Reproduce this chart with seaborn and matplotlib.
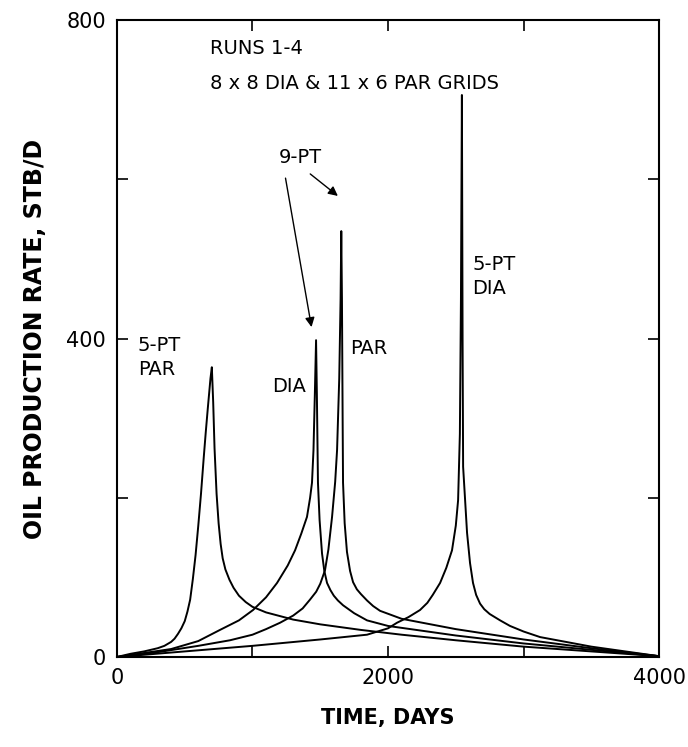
import numpy as np
import pandas as pd
import matplotlib
matplotlib.use("Agg")
import matplotlib.pyplot as plt
import seaborn as sns

# --- data (days, STB/D) ---
par5_t = [0, 100, 200, 300, 350, 400, 425, 450, 475, 500, 520, 540, 560, 580,
          600, 620, 640, 655, 670, 690, 700,
          710, 720, 735, 750, 765, 780, 800, 830, 860, 900, 950, 1000, 1100,
          1300, 1500, 1800, 2100, 2500, 3000, 3500, 4000]
par5_r = [0, 4, 7, 11, 14, 19, 23, 29, 36, 45, 57, 72, 98, 128,
          165, 205, 250, 282, 312, 350, 364,
          320, 262, 205, 168, 142, 124, 110, 97, 87, 77, 69, 63, 56,
          47, 41, 34, 28, 21, 13, 7, 1]

dia9_t = [0, 200, 400, 600, 760, 900, 1004, 1100, 1181, 1260, 1314, 1360, 1402,
          1425, 1439, 1450, 1460, 1469, 1475, 1483, 1495, 1513, 1530, 1550, 1575,
          1600, 1630, 1668, 1750, 1845, 2000, 2500, 3000, 3500, 4000]
dia9_r = [0, 5, 10, 20, 34, 46, 59, 75, 93, 115, 134, 155, 176,
          200, 219, 260, 330, 398, 330, 219, 172, 130, 108, 93, 84,
          77, 71, 65, 55, 46, 39, 27, 17, 9, 1]

par9_t = [0, 300, 600, 834, 1000, 1100, 1203, 1300, 1370, 1424, 1470, 1500, 1535,
          1560, 1587, 1610, 1624, 1640, 1650, 1655, 1660, 1665, 1668, 1680, 1697,
          1720, 1742, 1770, 1800, 1845, 1890, 1941, 2100, 2500, 3000, 3500, 4000]
par9_r = [0, 6, 14, 21, 28, 35, 43, 52, 61, 72, 82, 92, 109,
          135, 176, 220, 260, 350, 450, 535, 450, 300, 219, 168, 132,
          108, 94, 85, 79, 71, 64, 58, 48, 35, 22, 11, 1]

dia5_t = [0, 500, 1000, 1500, 1845, 2000, 2066, 2150, 2236, 2290, 2330, 2384,
          2430, 2472, 2500, 2517, 2530, 2538, 2545, 2550, 2554, 2583, 2605, 2627,
          2650, 2679, 2710, 2750, 2827, 2900, 3000, 3122, 3500, 4000]
dia5_r = [0, 7, 14, 22, 28, 36, 43, 50, 59, 68, 78, 93,
          112, 134, 165, 197, 280, 450, 706, 400, 239, 156, 118, 93,
          78, 67, 60, 54, 46, 39, 32, 25, 13, 1]

x_ticks = [0, 1000, 2000, 3000, 4000]
x_labels = ["0", "", "2000", "", "4000"]
y_ticks = [0, 200, 400, 600, 800]
y_labels = ["0", "", "400", "", "800"]

sns.set_style("ticks")
plt.rcParams["font.family"] = ["DejaVu Sans"]

fig = plt.figure(figsize=(6.88, 7.47), dpi=100)
ax = fig.add_axes([0.170, 0.1205, 0.788, 0.8525])

for t, r in [(par5_t, par5_r), (dia9_t, dia9_r), (par9_t, par9_r), (dia5_t, dia5_r)]:
    sns.lineplot(x=t, y=r, sort=False, estimator=None, color="black", lw=1.4, ax=ax)

ax.set_xlim(0, 4000)
ax.set_ylim(0, 800)
ax.set_xticks(x_ticks)
ax.set_xticklabels(x_labels)
ax.set_yticks(y_ticks)
ax.set_yticklabels(y_labels)
ax.tick_params(direction="in", length=8, width=1.2, top=True, right=True,
               labelsize=15, pad=8, colors="black")
for sp in ax.spines.values():
    sp.set_linewidth(1.5)
    sp.set_color("black")

ax.set_xlabel("TIME, DAYS", fontsize=15, fontweight="bold", labelpad=14, color="black")
ax.set_ylabel("OIL PRODUCTION RATE, STB/D", fontsize=17, fontweight="bold",
              labelpad=14, color="black")

# annotations
txt = dict(fontsize=14, color="black", va="center")
ax.text(686, 765, "RUNS 1-4", ha="left", **txt)
ax.text(686, 721, "8 x 8 DIA & 11 x 6 PAR GRIDS", ha="left", **txt)
ax.text(1350, 627, "9-PT", ha="center", **txt)
ax.text(155, 376, "5-PT\nPAR", ha="left", linespacing=1.3, **txt)
ax.text(1144, 340, "DIA", ha="left", **txt)
ax.text(1720, 388, "PAR", ha="left", **txt)
ax.text(2620, 478, "5-PT\nDIA", ha="left", linespacing=1.3, **txt)

arrow = dict(arrowstyle="-|>", color="black", lw=1.0, mutation_scale=14)
ax.annotate("", xy=(1439, 411), xytext=(1240, 605), arrowprops=arrow)
ax.annotate("", xy=(1646, 577), xytext=(1410, 609), arrowprops=arrow)

fig.savefig("out.png", dpi=100)
